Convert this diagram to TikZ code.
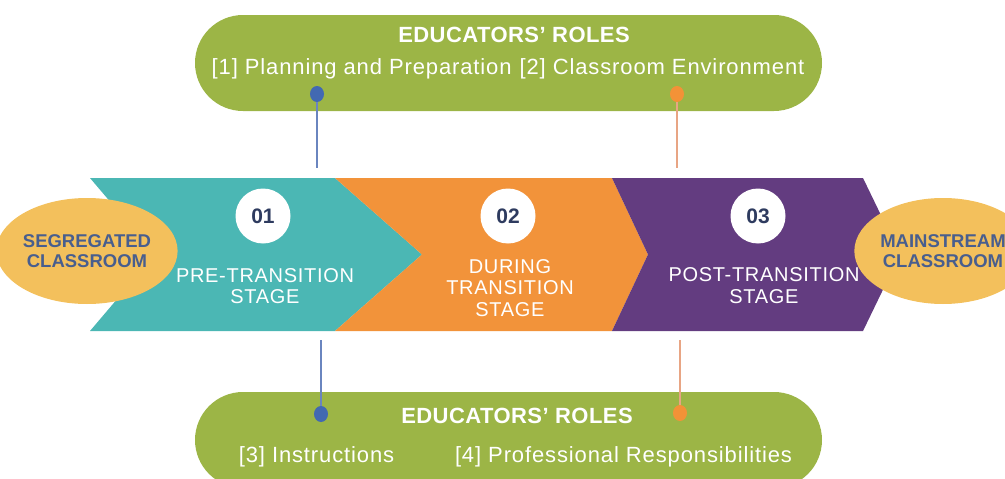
\documentclass[tikz,border=0pt]{standalone}
\usepackage{fontspec}
\setmainfont{Liberation Sans}
\usetikzlibrary{shapes.geometric}

\definecolor{teal}{HTML}{4BB7B4}
\definecolor{orng}{HTML}{F2933A}
\definecolor{purp}{HTML}{633C80}
\definecolor{leaf}{HTML}{9CB546}
\definecolor{sand}{HTML}{F3C05C}
\definecolor{steel}{HTML}{485E8E}
\definecolor{navy}{HTML}{2E3B5F}
\definecolor{dotblue}{HTML}{4269B2}
\definecolor{dotorange}{HTML}{F39237}
\definecolor{lineblue}{HTML}{6A85BF}
\definecolor{lineorange}{HTML}{E8A584}

\tikzset{
  pill/.style={fill=leaf, draw=none, minimum width=627pt, minimum height=96pt, rounded corners=48pt, inner sep=0pt},
  rolehead/.style={text=white, font=\bfseries\fontsize{22}{26}\selectfont\addfontfeatures{LetterSpace=2}, anchor=base},
  roleitem/.style={text=white, font=\fontsize{22}{26}\selectfont\addfontfeatures{LetterSpace=4}, anchor=base},
  classroom/.style={ellipse, fill=sand, draw=none, minimum width=160pt, minimum height=106pt, inner sep=0pt,
    text=steel, align=center, font=\bfseries\fontsize{18.5}{19.5}\selectfont},
  badge/.style={circle, fill=white, draw=none, minimum size=55pt, inner sep=0pt,
    text=navy, font=\bfseries\fontsize{21}{22}\selectfont},
  stagetext/.style={text=white, align=center, font=\fontsize{20}{21.5}\selectfont\addfontfeatures{LetterSpace=3.5}},
  roledot/.style={ellipse, draw=none, minimum width=14pt, minimum height=16pt, inner sep=0pt},
  bluelink/.style={draw=lineblue, line width=1.1pt},
  orangelink/.style={draw=lineorange, line width=1.1pt}
}

\begin{document}
\begin{tikzpicture}[x=1pt, y=-1pt]
  \useasboundingbox (0,0) rectangle (1005,479);
  \clip (0,0) rectangle (1005,479);

  % stage chevrons
  \fill[teal] (90,178) -- (335,178) -- (422,254.5) -- (335,331) -- (90,331) -- (155,254.5) -- cycle;
  \fill[orng] (335,178) -- (612,178) -- (648,254.5) -- (612,331) -- (335,331) -- (422,254.5) -- cycle;
  \fill[purp] (612,178) -- (863,178) -- (900,254.5) -- (863,331) -- (612,331) -- (648,254.5) -- cycle;

  % start and end classrooms
  \node[classroom] (seg) at (87,251) {SEGREGATED\\CLASSROOM};
  \node[classroom] (main) at (943,251) {MAINSTREAM\\CLASSROOM};

  % stage numbers
  \node[badge] (b1) at (263,216) {01};
  \node[badge] (b2) at (508,216) {02};
  \node[badge] (b3) at (758,216) {03};

  % stage names
  \node[stagetext] (s1) at (265,286) {PRE-TRANSITION\\STAGE};
  \node[stagetext] (s2) at (510,288) {DURING\\TRANSITION\\STAGE};
  \node[stagetext] (s3) at (764,285.5) {POST-TRANSITION\\STAGE};

  % upper roles panel
  \node[pill] (top) at (508.5,63) {};
  \node[rolehead] (toph) at (514,42) {EDUCATORS’ ROLES};
  \node[roleitem] (topi) at (508,74) {[1] Planning and Preparation\hspace{8pt}[2] Classroom Environment};

  % lower roles panel
  \node[pill] (bot) at (508.5,440) {};
  \node[rolehead] (both) at (517,423) {EDUCATORS’ ROLES};
  \node[roleitem] (bot3) at (316.5,462) {[3] Instructions};
  \node[roleitem] (bot4) at (623.5,462) {[4] Professional Responsibilities};

  % connector ends at the chevron band
  \coordinate (t1) at (317,168);
  \coordinate (t2) at (677,168);
  \coordinate (u1) at (321,340);
  \coordinate (u2) at (680,340);

  % role markers and their leaders
  \node[roledot, fill=dotblue] (d1) at (317,94) {};
  \node[roledot, fill=dotorange] (d2) at (677,94) {};
  \node[roledot, fill=dotblue] (d3) at (321,414) {};
  \node[roledot, fill=dotorange] (d4) at (680,413) {};

  \draw[bluelink] (d1.south) -- (t1);
  \draw[orangelink] (d2.south) -- (t2);
  \draw[bluelink] (u1) -- (d3.north);
  \draw[orangelink] (u2) -- (d4.north);
\end{tikzpicture}
\end{document}
